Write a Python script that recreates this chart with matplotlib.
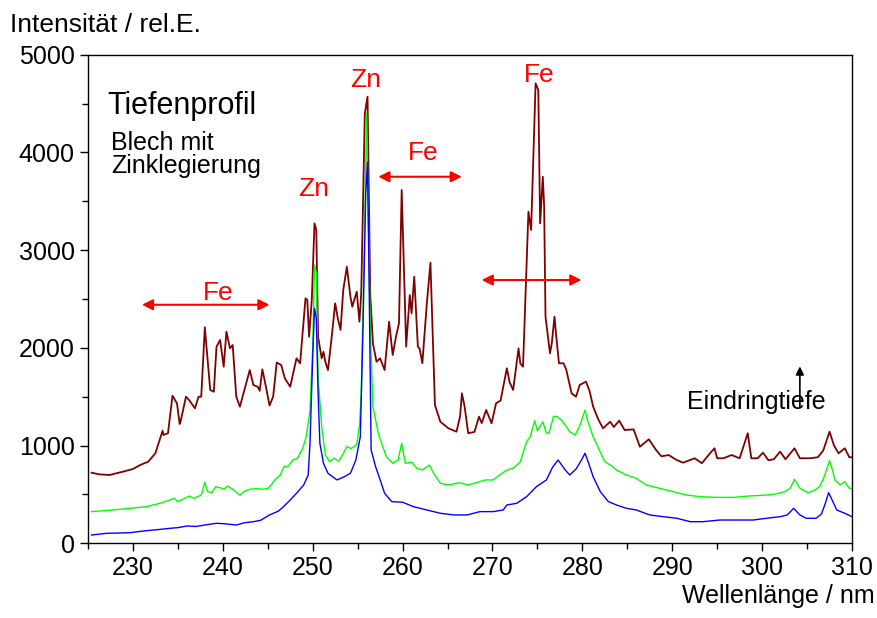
import matplotlib
matplotlib.use("Agg")
import matplotlib.pyplot as plt
from matplotlib.ticker import MultipleLocator

plt.rcParams['font.family'] = ['Liberation Sans', 'DejaVu Sans']

# top spectrum (surface), dark red
x_top = [225.4, 226.3, 227.4, 228.9, 230.0, 230.8, 231.7, 232.5, 233.3, 233.4, 233.9, 234.4, 234.9,
         235.2, 235.3, 235.9, 236.3, 236.9, 237.3, 237.6, 238.0, 238.6, 239.0, 239.3, 239.7, 240.1,
         240.4, 240.8, 241.1, 241.5, 241.9, 242.4, 243.0, 243.4, 243.9, 244.1, 244.4, 244.8, 245.2,
         245.6, 246.0, 246.5, 246.9, 247.5, 248.2, 248.6, 249.2, 249.4, 249.6, 249.9, 250.2, 250.4,
         250.6, 251.0, 251.2, 251.4, 251.7, 252.1, 252.5, 252.8, 253.1, 253.4, 253.8, 254.2, 254.4,
         254.9, 255.2, 255.4, 255.8, 256.1, 256.4, 256.7, 257.1, 257.5, 258.0, 258.5, 258.9, 259.3,
         259.6, 259.9, 260.4, 260.8, 261.0, 261.3, 261.7, 261.9, 262.2, 262.7, 263.1, 263.6, 264.2,
         265.1, 266.0, 266.4, 266.6, 266.9, 267.3, 268.0, 268.5, 268.8, 269.3, 269.9, 270.4, 270.9,
         271.6, 271.9, 272.3, 272.9, 273.1, 273.4, 274.0, 274.3, 274.8, 275.1, 275.3, 275.6, 275.75,
         275.9, 276.4, 276.6, 276.9, 277.1, 277.4, 277.9, 278.2, 278.8, 279.3, 279.7, 280.4, 280.8,
         281.2, 281.8, 282.3, 283.1, 283.5, 284.1, 284.7, 285.7, 286.4, 287.4, 288.2, 288.8, 289.6,
         290.5, 291.2, 292.5, 293.3, 294.2, 294.7, 295.0, 295.7, 296.6, 297.5, 298.4, 298.8, 299.5,
         300.1, 300.7, 301.3, 302.0, 302.6, 303.6, 304.2, 305.3, 306.2, 306.8, 307.5, 308.0, 308.5,
         309.2, 309.7, 310.0]
y_top = [722, 705, 699, 733, 760, 801, 835, 921, 1152, 1108, 1126, 1510, 1433,
         1221, 1244, 1500, 1460, 1381, 1500, 1500, 2210, 1569, 1551, 2012, 2080, 1807,
         2165, 1995, 2029, 1500, 1398, 1569, 1773, 1620, 1600, 1560, 1780, 1600, 1410,
         1500, 1850, 1824, 1688, 1602, 1893, 1842, 2507, 2490, 2114, 2490, 3274, 3206,
         2114, 1893, 1960, 1860, 1773, 2098, 2456, 2300, 2183, 2592, 2830, 2523, 2421,
         2575, 2268, 2560, 4400, 4570, 2558, 2046, 1858, 1893, 1773, 2268, 1927, 2131,
         2251, 3615, 2012, 2541, 2353, 2728, 2012, 1990, 1842, 2456, 2871, 1415, 1244,
         1177, 1142, 1300, 1535, 1400, 1126, 1140, 1296, 1230, 1364, 1228, 1433, 1460,
         1791, 1650, 1569, 1995, 1840, 1807, 3393, 3206, 4707, 4638, 3274, 3751, 3450,
         2319, 1944, 2046, 2319, 2114, 1842, 1842, 1780, 1535, 1500, 1620, 1654, 1560,
         1398, 1262, 1177, 1244, 1190, 1255, 1159, 1166, 988, 1064, 955, 890, 903,
         852, 825, 870, 819, 921, 972, 870, 870, 903, 870, 1126, 870, 870,
         927, 850, 860, 938, 860, 972, 870, 870, 880, 950, 1142, 1000, 921,
         972, 880, 880]

# middle spectrum, green
x_mid = [225.4, 227.8, 229.7, 231.5, 233.0, 234.1, 234.6, 235.0, 236.3, 236.8, 237.6, 238.0, 238.3,
         238.8, 239.2, 239.8, 240.2, 240.5, 241.1, 241.9, 242.4, 243.0, 243.8, 244.4, 245.0, 245.4,
         245.8, 246.4, 246.8, 247.3, 247.8, 248.3, 248.9, 249.3, 249.7, 250.0, 250.2, 250.4, 250.6,
         251.0, 251.4, 251.9, 252.4, 252.9, 253.4, 253.8, 254.3, 254.9, 255.2, 255.4, 255.8, 256.0,
         256.2, 256.4, 256.7, 257.3, 257.8, 258.2, 258.9, 259.5, 259.9, 260.3, 261.0, 261.6, 262.2,
         263.0, 263.3, 264.2, 265.1, 266.3, 267.3, 268.2, 269.2, 270.1, 270.8, 271.6, 272.3, 273.1,
         273.8, 274.2, 274.7, 275.0, 275.6, 276.0, 276.3, 276.8, 277.2, 277.8, 278.6, 279.2, 279.7,
         280.3, 280.6, 281.2, 281.8, 282.5, 283.3, 283.8, 284.9, 286.0, 287.1, 288.6, 290.1, 291.6,
         293.1, 294.9, 296.8, 298.6, 300.5, 301.5, 302.5, 303.1, 303.6, 304.2, 305.1, 305.8, 306.4,
         306.9, 307.5, 307.8, 308.1, 308.7, 309.2, 309.7, 310.0]
y_mid = [324, 341, 358, 375, 409, 443, 460, 426, 484, 460, 494, 624, 528,
         520, 579, 565, 555, 586, 553, 494, 530, 553, 560, 553, 560, 600,
         650, 700, 784, 790, 852, 870, 972, 1100, 1364, 2000, 2848, 2770, 1705,
         1193, 903, 835, 870, 840, 920, 988, 970, 1010, 1200, 1535, 3300, 4400,
         3300, 2217, 1398, 1126, 988, 886, 819, 852, 1023, 819, 830, 767, 750,
         801, 740, 614, 597, 620, 597, 620, 648, 648, 699, 750, 767, 835,
         1040, 1091, 1255, 1150, 1244, 1126, 1130, 1300, 1296, 1250, 1142, 1108, 1200,
         1364, 1250, 1091, 972, 835, 790, 750, 699, 665, 597, 563, 528, 494,
         477, 470, 470, 484, 494, 505, 528, 560, 655, 563, 518, 540, 580,
         680, 845, 760, 648, 597, 631, 563, 560]

# bottom spectrum (depth), blue
x_low = [225.4, 227.1, 228.5, 229.7, 231.5, 232.8, 234.1, 235.0, 236.0, 237.0, 238.0, 239.3, 240.4,
         241.5, 242.4, 243.4, 244.2, 245.2, 246.2, 246.7, 247.5, 248.2, 249.0, 249.5, 249.7, 250.0,
         250.2, 250.4, 250.6, 250.8, 251.2, 251.7, 252.7, 253.5, 254.2, 254.8, 255.3, 255.6, 255.9,
         256.1, 256.3, 256.5, 257.0, 257.5, 258.0, 258.8, 260.0, 261.2, 262.7, 264.2, 265.7, 267.2,
         268.6, 270.1, 271.2, 271.6, 272.7, 273.8, 274.9, 276.0, 276.7, 277.3, 278.1, 278.6, 279.3,
         279.9, 280.3, 280.7, 281.2, 282.0, 282.9, 283.8, 284.9, 286.0, 287.5, 289.0, 290.5, 292.0,
         293.4, 295.3, 297.0, 299.0, 300.5, 302.0, 302.8, 303.5, 304.2, 304.9, 306.0, 306.6, 307.0,
         307.4, 307.7, 308.3, 309.2, 310.0]
y_low = [85, 102, 105, 109, 129, 140, 153, 160, 177, 172, 187, 205, 198,
         187, 210, 221, 235, 290, 330, 370, 443, 512, 597, 699, 1023, 1900,
         2405, 2300, 1535, 1023, 819, 716, 648, 680, 716, 852, 1091, 2217, 3581,
         3900, 2500, 955, 784, 650, 512, 426, 420, 375, 341, 307, 290, 290,
         324, 324, 341, 392, 409, 477, 580, 648, 780, 852, 750, 699, 760,
         852, 921, 820, 682, 528, 426, 392, 358, 341, 290, 272, 256, 221,
         221, 238, 238, 238, 256, 272, 290, 358, 290, 256, 256, 300, 400,
         518, 460, 341, 307, 272]

# element labels and double arrows marking line regions
labels = ["Fe", "Zn", "Zn", "Fe", "Fe"]
label_x = [239.5, 250.1, 255.9, 262.3, 275.2]
label_y = [2560, 3630, 4740, 3990, 4790]
arrow_y = [2441, 3751, 2694]
arrow_x0 = [231.0, 257.3, 268.8]
arrow_x1 = [245.2, 266.6, 279.9]

fig = plt.figure(figsize=(8.78, 6.18), dpi=100)
ax = fig.add_axes([0.1002, 0.1209, 0.8702, 0.7906])

ax.plot(x_top, y_top, color="#800000", linewidth=1.3)
ax.plot(x_mid, y_mid, color="#00ff00", linewidth=1.0)
ax.plot(x_low, y_low, color="#0000ff", linewidth=1.0)

ax.set_xlim(225, 310)
ax.set_ylim(0, 5000)
ax.xaxis.set_major_locator(MultipleLocator(10))
ax.xaxis.set_minor_locator(MultipleLocator(5))
ax.yaxis.set_major_locator(MultipleLocator(1000))
ax.yaxis.set_minor_locator(MultipleLocator(500))
ax.tick_params(which='both', direction='out', labelsize=18, width=1)
ax.tick_params(which='major', length=6)
ax.tick_params(which='minor', length=4)
ax.set_xticks(range(230, 311, 10))

for s in ax.spines.values():
    s.set_linewidth(1.0)

for t, x, y in zip(labels, label_x, label_y):
    ax.text(x, y, t, color="red", fontsize=19, ha='center', va='center')
for y, a, b in zip(arrow_y, arrow_x0, arrow_x1):
    ax.annotate("", xy=(a, y), xytext=(b, y),
                arrowprops=dict(arrowstyle="<|-|>", color="red", lw=1.5,
                                mutation_scale=16, shrinkA=0, shrinkB=0))

ax.annotate("", xy=(304.2, 1810), xytext=(304.2, 1390),
            arrowprops=dict(arrowstyle="-|>", color="black", lw=1.2,
                            mutation_scale=12, shrinkA=0, shrinkB=0))
ax.text(299.4, 1449, "Eindringtiefe", fontsize=18, ha='center', va='center')

ax.text(227.2, 4480, "Tiefenprofil", fontsize=22, ha='left', va='center')
ax.text(227.6, 4100, "Blech mit", fontsize=18, ha='left', va='center')
ax.text(227.6, 3860, "Zinklegierung", fontsize=18, ha='left', va='center')

fig.text(10 / 878, 1 - 32 / 618, "Intensität / rel.E.", fontsize=19, ha='left', va='baseline')
fig.text(875 / 878, 1 - 603 / 618, "Wellenlänge / nm", fontsize=18, ha='right', va='baseline')

fig.savefig("out.png", dpi=100)
